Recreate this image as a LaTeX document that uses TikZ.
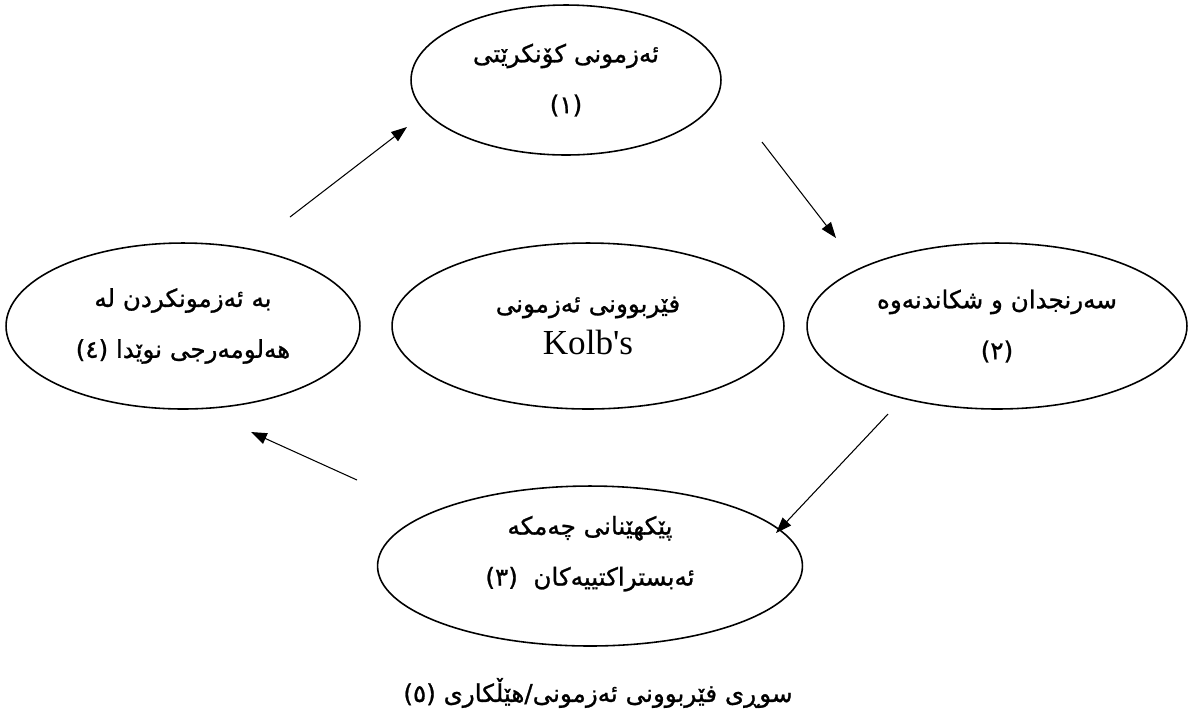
\documentclass[tikz,border=0pt]{standalone}
\usepackage{fontspec}
\setmainfont{Liberation Serif}
\newfontfamily\arabicfont[Script=Arabic,FakeBold=1]{DejaVu Sans}
\TeXXeTstate=1
\usetikzlibrary{shapes.geometric,arrows.meta}
\newcommand{\krd}[1]{{\arabicfont\beginR #1\endR}}
\newcommand{\num}[1]{\beginL(#1)\endL}
\begin{document}
\begin{tikzpicture}[x=0.02cm,y=-0.02cm,
  oval/.style={ellipse,draw,line width=0.9pt,inner sep=0pt},
  txt/.style={align=center,inner sep=0pt,font=\fontsize{14}{17}\selectfont},
  arr/.style={line width=0.6pt,-{Triangle[length=9pt,width=6.5pt]}}]
  \useasboundingbox (0,0) rectangle (1189,725);

  % the four stages and the centre
  \node[oval,minimum width=6.2cm,minimum height=3.0cm]  (E1) at (566,80)  {};
  \node[oval,minimum width=7.6cm,minimum height=3.32cm] (E2) at (997,326) {};
  \node[oval,minimum width=8.5cm,minimum height=3.2cm]  (E3) at (590,566) {};
  \node[oval,minimum width=7.08cm,minimum height=3.32cm] (E4) at (183,326) {};
  \node[oval,minimum width=7.84cm,minimum height=3.32cm] (EK) at (588,326) {};

  % texts of the ovals
  \node[txt] (T1) at (E1) {\krd{ئەزمونی کۆنکرێتی}\\[12pt]\krd{(١)}};
  \node[txt] (T2) at (E2) {\krd{سەرنجدان و شکاندنەوە}\\[12pt]\krd{(٢)}};
  \node[txt,yshift=7pt] (T3) at (E3) {\krd{پێکهێنانی چەمکە}\\[12pt]\krd{ئەبستراکتییەکان\ \ \num{٣}}};
  \node[txt] (T4) at (E4) {\krd{بە ئەزمونکردن لە}\\[12pt]\krd{هەلومەرجی نوێدا \num{٤}}};
  \node[txt] (TK) at (EK) {\krd{فێربوونی ئەزمونی}\\[6pt]{\fontsize{20}{22}\selectfont Kolb\textquotesingle s}};

  % arrows of the cycle
  \coordinate (a1) at (290,217);  \coordinate (b1) at (407,127);
  \coordinate (a2) at (762,142);  \coordinate (b2) at (836,238);
  \coordinate (a3) at (888,414);  \coordinate (b3) at (776,533);
  \coordinate (a4) at (357,480);  \coordinate (b4) at (251,432);
  \draw[arr] (a1) -- (b1);
  \draw[arr] (a2) -- (b2);
  \draw[arr] (a3) -- (b3);
  \draw[arr] (a4) -- (b4);

  % caption
  \node[txt] (cap) at (598,693)
    {\krd{سوڕی فێربوونی ئەزمونی/هێڵکاری \num{٥}}};
\end{tikzpicture}
\end{document}
